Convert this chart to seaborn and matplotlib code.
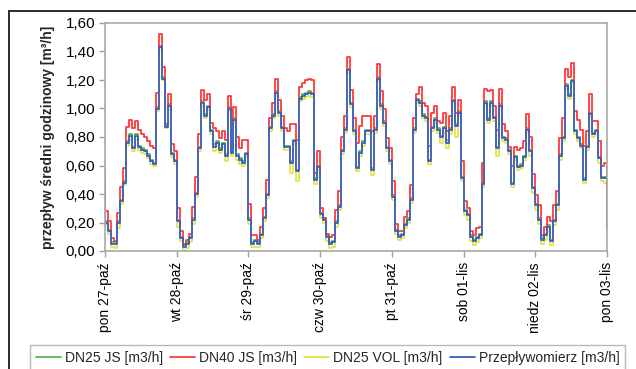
import numpy as np
import pandas as pd
import matplotlib
matplotlib.use("Agg")
import matplotlib.pyplot as plt
import seaborn as sns
from matplotlib.patches import Rectangle
from matplotlib.ticker import FuncFormatter, MultipleLocator

# Day labels at the midnight boundaries (every 24 h)
day_labels = ["pon 27-paź", "wt 28-paź", "śr 29-paź", "czw 30-paź",
              "pt 31-paź", "sob 01-lis", "niedz 02-lis", "pon 03-lis"]

series_names = ["DN25 JS [m3/h]", "DN40 JS [m3/h]", "DN25 VOL [m3/h]",
                "Przepływomierz [m3/h]"]
series_colors = ["#55b94f", "#ff3a3a", "#e4e44a", "#3a5cbf"]

# Hourly mean flow [m3/h], 7 days x 24 h
dn25_js = [
    0.21, 0.15, 0.06, 0.06, 0.21, 0.36, 0.49, 0.77, 0.82, 0.73, 0.82, 0.74, 0.72, 0.71, 0.68, 0.64, 0.62, 1.01, 1.44, 1.22, 0.88, 1.03, 0.69, 0.64,
    0.22, 0.10, 0.04, 0.06, 0.10, 0.23, 0.41, 0.73, 1.05, 0.96, 1.02, 0.85, 0.75, 0.77, 0.72, 0.76, 0.68, 1.01, 0.70, 0.93, 0.68, 0.65, 0.63, 0.69,
    0.23, 0.06, 0.08, 0.06, 0.12, 0.24, 0.40, 0.87, 0.96, 1.12, 0.98, 0.87, 0.74, 0.74, 0.63, 0.78, 0.57, 1.08, 1.10, 1.11, 1.12, 1.11, 0.51, 0.60,
    0.27, 0.23, 0.11, 0.06, 0.07, 0.21, 0.32, 0.71, 0.86, 1.28, 1.04, 0.85, 0.59, 0.70, 0.77, 0.85, 0.85, 0.58, 0.86, 1.22, 1.03, 0.91, 0.73, 0.64,
    0.39, 0.15, 0.11, 0.12, 0.19, 0.23, 0.37, 0.86, 1.07, 1.05, 0.96, 0.94, 0.64, 0.87, 0.93, 0.86, 0.81, 0.87, 0.78, 0.86, 1.06, 0.89, 0.98, 0.52,
    0.29, 0.26, 0.11, 0.08, 0.10, 0.12, 0.48, 1.05, 0.93, 1.05, 0.94, 0.73, 1.03, 0.80, 0.79, 0.71, 0.48, 0.67, 0.60, 0.61, 0.67, 0.86, 0.71, 0.45,
    0.33, 0.23, 0.09, 0.12, 0.18, 0.08, 0.22, 0.33, 0.68, 0.80, 1.17, 1.10, 1.20, 0.85, 0.80, 0.75, 0.51, 0.74, 0.97, 0.83, 0.85, 0.66, 0.52, 0.52,
]
dn40_js = [
    0.28, 0.21, 0.09, 0.07, 0.27, 0.45, 0.58, 0.87, 0.92, 0.86, 0.91, 0.85, 0.82, 0.80, 0.77, 0.74, 0.72, 1.11, 1.52, 1.29, 0.89, 1.10, 0.75, 0.70,
    0.30, 0.14, 0.05, 0.08, 0.12, 0.31, 0.52, 0.82, 1.13, 1.06, 1.10, 0.90, 0.86, 0.84, 0.79, 0.84, 0.78, 1.09, 0.77, 1.01, 0.80, 0.72, 0.78, 0.78,
    0.33, 0.11, 0.11, 0.08, 0.17, 0.30, 0.50, 0.93, 1.04, 1.21, 1.06, 0.95, 0.86, 0.84, 0.89, 0.89, 0.78, 1.15, 1.18, 1.20, 1.21, 1.20, 0.55, 0.70,
    0.30, 0.23, 0.12, 0.10, 0.11, 0.29, 0.42, 0.80, 0.95, 1.36, 1.13, 0.93, 0.76, 0.88, 0.95, 0.95, 0.95, 0.84, 0.95, 1.31, 1.12, 1.00, 0.79, 0.72,
    0.49, 0.19, 0.14, 0.14, 0.24, 0.28, 0.46, 0.93, 1.10, 1.15, 1.04, 1.02, 0.74, 0.97, 1.02, 0.91, 0.90, 0.97, 0.84, 0.95, 1.15, 0.97, 1.06, 0.63,
    0.35, 0.30, 0.14, 0.11, 0.16, 0.17, 0.62, 1.14, 1.12, 1.13, 1.02, 0.85, 1.14, 0.89, 0.84, 0.73, 0.60, 0.73, 0.71, 0.72, 0.77, 0.96, 0.80, 0.54,
    0.39, 0.32, 0.11, 0.17, 0.24, 0.21, 0.32, 0.42, 0.79, 0.93, 1.28, 1.22, 1.32, 0.98, 0.92, 0.85, 0.74, 0.84, 1.10, 0.91, 0.91, 0.77, 0.60, 0.62,
]
dn25_vol = [
    0.18, 0.12, 0.03, 0.02, 0.16, 0.33, 0.46, 0.74, 0.78, 0.70, 0.78, 0.71, 0.69, 0.68, 0.65, 0.61, 0.60, 0.98, 1.41, 1.20, 0.86, 0.99, 0.66, 0.61,
    0.17, 0.07, 0.01, 0.02, 0.06, 0.19, 0.38, 0.70, 1.02, 0.93, 0.99, 0.82, 0.70, 0.74, 0.69, 0.73, 0.63, 0.98, 0.67, 0.90, 0.64, 0.61, 0.60, 0.66,
    0.19, 0.03, 0.03, 0.03, 0.09, 0.21, 0.37, 0.84, 0.93, 1.09, 0.95, 0.84, 0.71, 0.71, 0.55, 0.75, 0.49, 1.05, 1.07, 1.08, 1.09, 1.08, 0.47, 0.57,
    0.23, 0.20, 0.07, 0.02, 0.03, 0.17, 0.29, 0.68, 0.83, 1.25, 1.01, 0.82, 0.56, 0.67, 0.74, 0.82, 0.82, 0.53, 0.83, 1.19, 1.00, 0.88, 0.70, 0.61,
    0.36, 0.12, 0.08, 0.09, 0.16, 0.20, 0.34, 0.83, 1.04, 1.02, 0.93, 0.91, 0.61, 0.84, 0.90, 0.83, 0.76, 0.83, 0.72, 0.82, 1.03, 0.80, 0.95, 0.49,
    0.25, 0.22, 0.07, 0.04, 0.06, 0.09, 0.45, 1.02, 0.90, 1.02, 0.91, 0.67, 1.00, 0.77, 0.76, 0.68, 0.45, 0.64, 0.57, 0.58, 0.64, 0.83, 0.67, 0.41,
    0.29, 0.19, 0.05, 0.08, 0.14, 0.04, 0.18, 0.29, 0.64, 0.77, 1.14, 1.07, 1.17, 0.82, 0.77, 0.72, 0.48, 0.71, 0.94, 0.80, 0.82, 0.62, 0.49, 0.48,
]
przeplywomierz = [
    0.20, 0.14, 0.05, 0.05, 0.20, 0.35, 0.48, 0.76, 0.81, 0.72, 0.81, 0.73, 0.71, 0.70, 0.67, 0.63, 0.61, 1.00, 1.43, 1.21, 0.87, 1.02, 0.68, 0.63,
    0.21, 0.09, 0.03, 0.05, 0.09, 0.22, 0.40, 0.72, 1.04, 0.95, 1.01, 0.84, 0.73, 0.76, 0.71, 0.75, 0.67, 1.00, 0.69, 0.92, 0.67, 0.64, 0.62, 0.68,
    0.22, 0.05, 0.07, 0.05, 0.11, 0.23, 0.39, 0.86, 0.95, 1.11, 0.97, 0.86, 0.73, 0.73, 0.62, 0.77, 0.56, 1.07, 1.09, 1.10, 1.11, 1.10, 0.50, 0.59,
    0.26, 0.22, 0.10, 0.05, 0.06, 0.20, 0.31, 0.70, 0.85, 1.27, 1.03, 0.84, 0.58, 0.69, 0.76, 0.84, 0.84, 0.57, 0.85, 1.21, 1.02, 0.90, 0.72, 0.63,
    0.38, 0.14, 0.10, 0.11, 0.18, 0.22, 0.36, 0.85, 1.06, 1.04, 0.95, 0.93, 0.63, 0.86, 0.92, 0.85, 0.80, 0.86, 0.76, 0.85, 1.05, 0.88, 0.97, 0.51,
    0.28, 0.25, 0.10, 0.07, 0.09, 0.11, 0.47, 1.04, 0.92, 1.04, 0.93, 0.72, 1.02, 0.79, 0.78, 0.70, 0.47, 0.66, 0.59, 0.60, 0.66, 0.85, 0.70, 0.44,
    0.32, 0.22, 0.08, 0.11, 0.17, 0.07, 0.21, 0.32, 0.67, 0.79, 1.16, 1.09, 1.19, 0.84, 0.79, 0.74, 0.50, 0.73, 0.96, 0.82, 0.84, 0.65, 0.51, 0.51,
]
# Readings at the very start and end of the period
start_values = [0.47, 0.57, 0.46, 0.46]
end_values = [0.17, 0.20, 0.15, 0.16]

sns.set_theme(style="white")
plt.rcParams["font.family"] = ["Liberation Sans", "DejaVu Sans"]

all_series = [dn25_js, dn40_js, dn25_vol, przeplywomierz]
frames = []
for name, vals, s, e in zip(series_names, all_series, start_values, end_values):
    n = len(vals)
    x = np.concatenate([[0], np.arange(n), [n]])
    y = np.concatenate([[s], vals, [e]])
    frames.append(pd.DataFrame({"godzina": x, "przeplyw": y, "seria": name}))
df = pd.concat(frames, ignore_index=True)

W, H = 636, 369
fig = plt.figure(figsize=(W / 100, H / 100), dpi=100)
ax = fig.add_axes([105 / W, 1 - 251 / H, 502 / W, 228 / H])

sns.lineplot(data=df, x="godzina", y="przeplyw", hue="seria",
             hue_order=series_names, palette=series_colors,
             estimator=None, sort=False, drawstyle="steps-post",
             linewidth=1.3, ax=ax)

n_hours = len(przeplywomierz)
ax.set_xlim(0, n_hours)
ax.set_ylim(0, 1.6)
ax.set_xticks(np.arange(0, n_hours + 1, 24))
ax.set_xticklabels(day_labels, rotation=90)
ax.yaxis.set_major_locator(MultipleLocator(0.2))
ax.yaxis.set_major_formatter(FuncFormatter(lambda v, _: f"{v:.2f}".replace(".", ",")))
ax.tick_params(axis="both", direction="out", length=4, width=1.0,
               color="#a0a0a0", labelcolor="black", bottom=True, left=True)
ax.tick_params(axis="y", labelsize=11, pad=3)
ax.tick_params(axis="x", labelsize=10, pad=4)
ax.set_xlabel("")
ax.set_ylabel("przepływ średni godzinowy [m³/h]", fontsize=10,
              fontweight="bold", labelpad=8)
for sp in ax.spines.values():
    sp.set_color("#a8a8a8")
    sp.set_linewidth(1.2)

handles, labels = ax.get_legend_handles_labels()
ax.get_legend().remove()
leg = fig.legend(handles, labels, loc="upper left",
                 bbox_to_anchor=(30 / W, 0, 595 / W, 1 - 345 / H),
                 mode="expand", ncol=4, frameon=True, fancybox=False,
                 fontsize=10, handlelength=1.8, handletextpad=0.3,
                 borderaxespad=0, borderpad=0.4, columnspacing=0.6)
leg.get_frame().set_edgecolor("#a8a8a8")
leg.get_frame().set_linewidth(1.0)
for h in leg.legend_handles:
    h.set_linewidth(1.3)

# Outer chart frame (extends past the right and bottom edges)
fig.patches.append(Rectangle((9 / W, -0.5), 2.0, 0.5 + 1 - 11 / H,
                             transform=fig.transFigure, fill=False,
                             edgecolor="#1a1a1a", linewidth=1.3))

fig.savefig("out.png", dpi=100)
